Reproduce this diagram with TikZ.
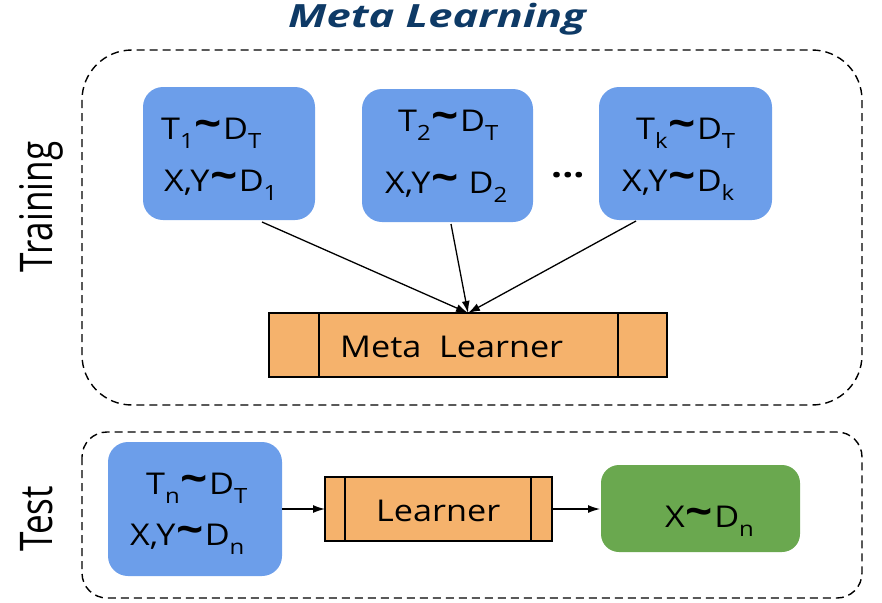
\documentclass[tikz,border=0pt]{standalone}
\usepackage{fontspec}
\setmainfont{Open Sans}[FakeStretch=1.14]
\newfontfamily\titlefont{Open Sans}[FakeStretch=1.36]
\newfontfamily\sidefont{Open Sans}[FakeStretch=0.78]
\usetikzlibrary{arrows.meta}
\definecolor{tblue}{HTML}{6C9EEA}
\definecolor{torange}{HTML}{F5B26C}
\definecolor{tgreen}{HTML}{6AA84F}
\definecolor{ttitle}{HTML}{0E3A66}
\newcommand{\mysub}[1]{\raisebox{-9.5pt}{\fontsize{21}{21}\selectfont #1}}
\newcommand{\tl}{\hspace{1pt}\raisebox{0.5pt}{\fontsize{42}{42}\selectfont\bfseries\char`\~}\hspace{1pt}}
\begin{document}
\begin{tikzpicture}[x=1pt,y=-1pt,
  task/.style={fill=tblue,rounded corners=20pt},
  txt/.style={anchor=base west,inner sep=0pt,font=\fontsize{30}{34}\selectfont},
  learn/.style={draw,fill=torange,line width=1.3pt},
  grp/.style={draw,line width=1.4pt,dash pattern=on 8pt off 5pt},
  side/.style={rotate=90,anchor=base,inner sep=0pt,font=\sidefont\fontsize{45}{50}\selectfont},
  arr/.style={-{Latex[length=12pt,width=8pt]},line width=1.3pt}]
\useasboundingbox (0,0) rectangle (882,602);
\node[anchor=base,inner sep=0pt,font=\titlefont\fontsize{32}{36}\selectfont\bfseries\itshape,text=ttitle] (title) at (437,28) {Meta Learning};
\draw[grp,rounded corners=50pt] (82,50) rectangle (862,405);
\draw[grp,rounded corners=25pt] (82,432) rectangle (862,598);
\node[side] (train) at (52,207) {Training};
\node[side] (test) at (52,519) {Test};
% tasks
\path[task] (143,87) rectangle (315,220);
\path[task] (362,89) rectangle (533,222);
\path[task] (599,87) rectangle (772,220);
\node[txt] (t1a) at (161,139) {T\mysub{1}\tl D\mysub{T}};
\node[txt] (t1b) at (164,191) {X,Y\tl D\mysub{1}};
\node[txt] (t2a) at (398,131) {T\mysub{2}\tl D\mysub{T}};
\node[txt] (t2b) at (385,193) {X,Y\tl\ D\mysub{2}};
\node[txt] (t3a) at (636,139) {T\mysub{k}\tl D\mysub{T}};
\node[txt] (t3b) at (622,191) {X,Y\tl D\mysub{k}};
\node[txt,font=\fontsize{34}{34}\selectfont\bfseries] (dots) at (551,177) {...};
\coordinate (b1) at (262,222);
\coordinate (b2) at (451,224);
\coordinate (b3) at (636,221);
% meta learner
\draw[learn] (269,313) rectangle (667,377);
\draw[line width=1.3pt] (319,313) -- (319,377) (618,313) -- (618,377);
\node[txt] (ml) at (340,357) {Meta\ \ Learner};
\coordinate (mt) at (468,313);
\draw[arr] (b1) -- (mt);
\draw[arr] (b2) -- (mt);
\draw[arr] (b3) -- (mt);
% test
\path[task] (108,442) rectangle (282,576);
\node[txt] (tna) at (146,494) {T\mysub{n}\tl D\mysub{T}};
\node[txt] (tnb) at (130,545) {X,Y\tl D\mysub{n}};
\draw[learn] (325,477) rectangle (552,541);
\draw[line width=1.3pt] (345,477) -- (345,541) (531,477) -- (531,541);
\node[txt] (ln) at (376,521) {Learner};
\path[fill=tgreen,rounded corners=18pt] (601,465) rectangle (800,552);
\node[txt] (xd) at (665,527) {X\tl D\mysub{n}};
\coordinate (a1) at (282,509);
\coordinate (a2) at (325,509);
\coordinate (a3) at (552,509);
\coordinate (a4) at (600,509);
\draw[arr] (a1) -- (a2);
\draw[arr] (a3) -- (a4);
\end{tikzpicture}
\end{document}
